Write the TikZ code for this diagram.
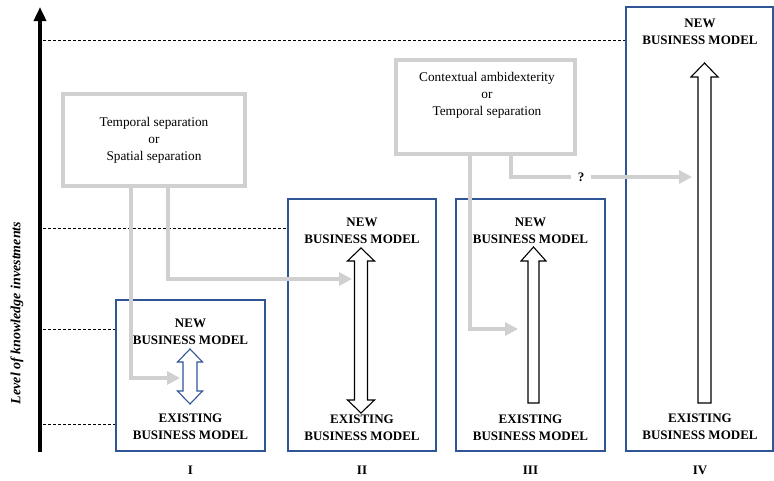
\documentclass[tikz,border=0pt]{standalone}
\usepackage{fontspec}
\setmainfont{Liberation Serif}
\usetikzlibrary{arrows.meta,positioning}
\definecolor{kmInk}{HTML}{000000}
\definecolor{kmBlue}{HTML}{2F5597}
\definecolor{kmGrey}{HTML}{D0D0D0}
\tikzset{
  km axis/.style={
    draw=kmInk,
    line width=4pt,
    -{Triangle[length=14pt,width=12pt]}
  },
  km guide/.style={
    draw=kmInk,
    line width=.8pt,
    dash pattern=on 3pt off 2pt
  },
  km stage/.style={draw=kmBlue, line width=1.2pt, fill=white, inner sep=0pt},
  km mode/.style={draw=kmGrey, line width=4.5pt, fill=white, inner sep=0pt},
  km link/.style={
    draw=kmGrey,
    line width=4.5pt,
    -{Triangle[length=13pt,width=13pt]}
  },
  km fat arrow/.style={draw=kmInk, line width=1.1pt, fill=white, line join=miter},
  km blue arrow/.style={km fat arrow, draw=kmBlue},
  km model/.style={font=\bfseries\fontsize{13}{16.5}\selectfont, align=center, inner sep=0pt},
  km text/.style={font=\fontsize{13.3}{17}\selectfont, align=center, inner sep=0pt},
  km numeral/.style={font=\bfseries\fontsize{13}{15}\selectfont}
}

\begin{document}
\begin{tikzpicture}[x=1pt,y=-1pt]
  \fill[white] (0,0) rectangle (774,480);
  \useasboundingbox (0,0) rectangle (774,480);

  % axis
  \coordinate (ax0) at (40,452);
  \coordinate (ax1) at (40,7);
  \draw[km axis] (ax0) -- (ax1);
  \node[rotate=90, font=\bfseries\itshape\fontsize{14}{16}\selectfont] (ylabel) at (17,313) {Level of knowledge investments};

  % stages
  \node[km stage, minimum width=149pt, minimum height=151pt] (s1) at (190.5,375.5) {};
  \node[km stage, minimum width=148pt, minimum height=252pt] (s2) at (362,325) {};
  \node[km stage, minimum width=149pt, minimum height=252pt] (s3) at (530.5,325) {};
  \node[km stage, minimum width=147pt, minimum height=444pt] (s4) at (699.5,229) {};

  % levels
  \coordinate (g4) at (43,40);
  \coordinate (g3) at (43,228);
  \coordinate (g2) at (43,329);
  \coordinate (g1) at (43,424);
  \draw[km guide] (g4) -- (g4 -| s4.west);
  \draw[km guide] (g3) -- (g3 -| s2.west);
  \draw[km guide] (g2) -- (g2 -| s1.west);
  \draw[km guide] (g1) -- (g1 -| s1.west);

  % hollow arrows
  \draw[km blue arrow] (183,362) -- (177.5,362) -- (190,349) -- (202.5,362) -- (197,362)
    -- (197,391) -- (202.5,391) -- (190,404) -- (177.5,391) -- (183,391) -- cycle;
  \draw[km fat arrow] (354.5,261) -- (347.5,261) -- (361,248) -- (374.5,261) -- (367.5,261)
    -- (367.5,400) -- (374.5,400) -- (361,413) -- (347.5,400) -- (354.5,400) -- cycle;
  \draw[km fat arrow] (528,403) -- (528,261) -- (521,261) -- (533.5,247) -- (546,261)
    -- (539,261) -- (539,403) -- cycle;
  \draw[km fat arrow] (698,403) -- (698,77) -- (691,77) -- (704.5,63) -- (718,77)
    -- (711,77) -- (711,403) -- cycle;

  % business models
  \node[km model] (new1) at (190.5,332) {NEW\\BUSINESS MODEL};
  \node[km model] (old1) at (190.5,427) {EXISTING\\BUSINESS MODEL};
  \node[km model] (new2) at (362,231) {NEW\\BUSINESS MODEL};
  \node[km model] (old2) at (362,428) {EXISTING\\BUSINESS MODEL};
  \node[km model] (new3) at (530.5,231) {NEW\\BUSINESS MODEL};
  \node[km model] (old3) at (530.5,428) {EXISTING\\BUSINESS MODEL};
  \node[km model] (new4) at (700,32) {NEW\\BUSINESS MODEL};
  \node[km model] (old4) at (700,427) {EXISTING\\BUSINESS MODEL};

  % separation modes
  \node[km mode, minimum width=182pt, minimum height=92pt] (m1) at (154,140) {};
  \node[km text] (t1) at (m1) {Temporal separation\\or\\Spatial separation};
  \node[km mode, minimum width=179pt, minimum height=94pt] (m2) at (485.5,107) {};
  \node[km text] (t2) at (487,95) {Contextual ambidexterity\\or\\Temporal separation};

  % links
  \coordinate (l1) at (131,186);
  \coordinate (e1) at (180,378);
  \coordinate (l2) at (168,186);
  \coordinate (e2) at (352,279);
  \coordinate (l3) at (470,154);
  \coordinate (e3) at (518,329);
  \coordinate (l4) at (511,154);
  \coordinate (e4) at (692,177);
  \node[km numeral, inner sep=7pt] (q) at (581,177) {?};
  \draw[km link] (l1) |- (e1);
  \draw[km link] (l2) |- (e2);
  \draw[km link] (l3) |- (e3);
  \draw[km link, -] (l4) |- (q.west);
  \draw[km link] (q.east) -- (e4);

  % stage numbers
  \node[km numeral] (n1) at (190.5,470) {I};
  \node[km numeral] (n2) at (362,470) {II};
  \node[km numeral] (n3) at (530.5,470) {III};
  \node[km numeral] (n4) at (700,470) {IV};
\end{tikzpicture}
\end{document}
